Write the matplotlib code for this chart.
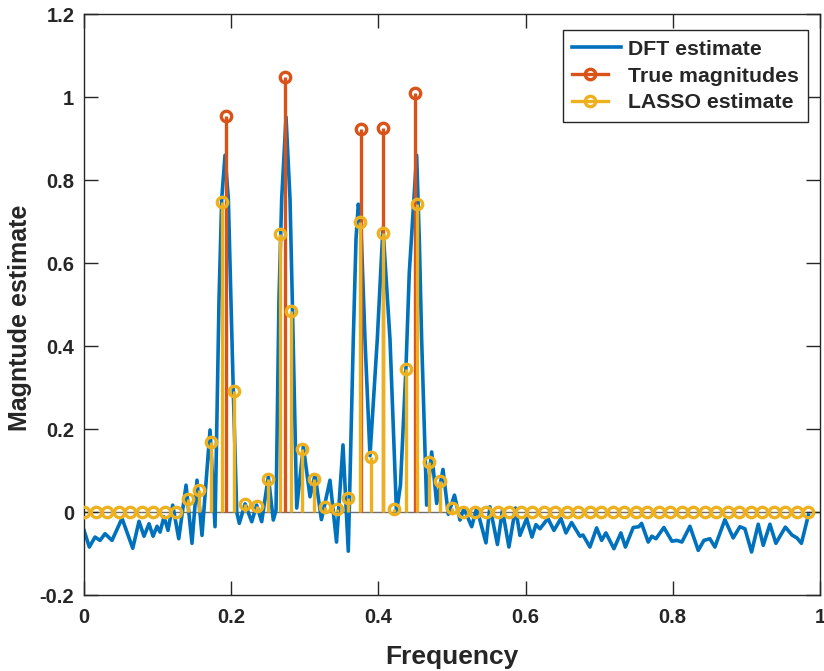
import numpy as np
import matplotlib
matplotlib.use('Agg')
import matplotlib.pyplot as plt
from matplotlib.lines import Line2D
from matplotlib.legend_handler import HandlerLine2D
from matplotlib.ticker import FuncFormatter

plt.rcParams['font.family'] = ['Liberation Sans', 'DejaVu Sans']
plt.rcParams['font.weight'] = 'bold'
plt.rcParams['axes.unicode_minus'] = False

# DFT estimate
freq_dft = [0.0, 0.0072, 0.0149, 0.0217, 0.0285, 0.0380, 0.0516, 0.0662, 0.0747, 0.0815,
            0.0883, 0.0938, 0.0992, 0.1033, 0.1087, 0.1141, 0.1205, 0.1287, 0.1386, 0.1467,
            0.1535, 0.1603, 0.1712, 0.1780, 0.1834, 0.1871, 0.1916, 0.1961, 0.1997, 0.2028,
            0.2075, 0.2110, 0.2188, 0.2279, 0.2346, 0.2414, 0.2504, 0.2572, 0.2609, 0.2649,
            0.2686, 0.2745, 0.2799, 0.2830, 0.2890, 0.2980, 0.3071, 0.3139, 0.3226, 0.3342,
            0.3431, 0.3519, 0.3591, 0.3659, 0.3696, 0.3727, 0.3760, 0.3818, 0.3886, 0.3985,
            0.4062, 0.4158, 0.4246, 0.4300, 0.4375, 0.4420, 0.4520, 0.4556, 0.4588, 0.4656,
            0.4724, 0.4792, 0.4878, 0.4950, 0.5034, 0.5109, 0.5163, 0.5268, 0.5336, 0.5462,
            0.5516, 0.5618, 0.5686, 0.5774, 0.5863, 0.5924, 0.6015, 0.6087, 0.6141, 0.6196,
            0.6304, 0.6386, 0.6481, 0.6549, 0.6626, 0.6739, 0.6780, 0.6875, 0.6966, 0.7034,
            0.7092, 0.7201, 0.7296, 0.7357, 0.7463, 0.7541, 0.7577, 0.7667, 0.7717, 0.7772,
            0.7880, 0.7989, 0.8057, 0.8125, 0.8234, 0.8347, 0.8424, 0.8505, 0.8573, 0.8709,
            0.8822, 0.8913, 0.8981, 0.9072, 0.9162, 0.9230, 0.9321, 0.9402, 0.9531, 0.9620,
            0.9688, 0.9749, 0.9844]
dft_vals = [-0.044, -0.084, -0.060, -0.068, -0.052, -0.068, -0.015, -0.087, -0.022, -0.058,
            -0.028, -0.058, -0.034, -0.048, -0.011, -0.044, 0.017, -0.064, 0.065, -0.075,
            0.077, -0.056, 0.198, -0.035, 0.51, 0.755, 0.86, 0.755, 0.51, 0.293,
            0.0, -0.027, 0.020, -0.023, 0.017, -0.023, 0.085, -0.019, 0.005, 0.513,
            0.755, 0.952, 0.755, 0.513, 0.010, 0.158, 0.037, 0.090, -0.018, 0.077,
            -0.072, 0.162, -0.094, 0.416, 0.658, 0.742, 0.704, 0.416, 0.136, 0.416,
            0.685, 0.416, 0.0, 0.065, 0.348, 0.577, 0.86, 0.658, 0.416, 0.017,
            0.145, 0.021, 0.103, -0.005, 0.041, -0.019, 0.009, -0.035, 0.010, -0.074,
            0.013, -0.078, 0.005, -0.084, 0.010, -0.056, -0.015, -0.060, -0.030, -0.040,
            -0.015, -0.044, -0.015, -0.050, -0.025, -0.058, -0.055, -0.084, -0.038, -0.068,
            -0.050, -0.088, -0.050, -0.084, -0.037, -0.035, -0.027, -0.072, -0.058, -0.064,
            -0.037, -0.070, -0.068, -0.072, -0.034, -0.092, -0.068, -0.064, -0.084, -0.018,
            -0.062, -0.035, -0.040, -0.096, -0.029, -0.080, -0.029, -0.075, -0.036, -0.055,
            -0.062, -0.075, -0.007]

# true spectral lines
freq_true = [0.1935, 0.2731, 0.3764, 0.4058, 0.4497]
true_vals = [0.954, 1.049, 0.922, 0.926, 1.011]

# LASSO estimate on a 1/64 grid
lasso_vals = [0, 0, 0, 0, 0, 0, 0, 0, 0, 0.031,
              0.053, 0.169, 0.748, 0.292, 0.019, 0.014, 0.081, 0.669, 0.484, 0.153,
              0.080, 0.013, 0.007, 0.035, 0.700, 0.132, 0.673, 0.007, 0.346, 0.742,
              0.121, 0.076, 0.010, 0, 0, 0, 0, 0, 0, 0,
              0, 0, 0, 0, 0, 0, 0, 0, 0, 0,
              0, 0, 0, 0, 0, 0, 0, 0, 0, 0,
              0, 0, 0, 0]
freq_lasso = np.arange(len(lasso_vals)) / 64.0

blue = '#0072BD'
red = '#D95319'
yellow = '#EDB120'
dark = '#262626'

fig = plt.figure(figsize=(8.24, 6.71), dpi=100)
ax = fig.add_axes([0.102, 0.113, 0.893, 0.866])

ax.axhline(0, color='#6e6e6e', lw=1.0, zorder=1)
ax.plot(freq_dft, dft_vals, color=blue, lw=2.6, zorder=2)

m1, s1, b1 = ax.stem(freq_true, true_vals, basefmt=' ')
s1.set_color(red); s1.set_linewidth(2.4); s1.set_zorder(3)
m1.set_color(red); m1.set_markerfacecolor('none'); m1.set_markeredgewidth(2.4)
m1.set_markersize(7.5); m1.set_zorder(3)

m2, s2, b2 = ax.stem(freq_lasso, lasso_vals, basefmt=' ')
s2.set_color(yellow); s2.set_linewidth(2.4); s2.set_zorder(4)
m2.set_color(yellow); m2.set_markerfacecolor('none'); m2.set_markeredgewidth(2.4)
m2.set_markersize(7.5); m2.set_zorder(4)

ax.set_xlim(0, 1)
ax.set_ylim(-0.2, 1.2)
ax.set_xticks([0, 0.2, 0.4, 0.6, 0.8, 1])
ax.set_yticks([-0.2, 0, 0.2, 0.4, 0.6, 0.8, 1, 1.2])
fmt = FuncFormatter(lambda v, p: '%g' % round(v, 2))
ax.xaxis.set_major_formatter(fmt)
ax.yaxis.set_major_formatter(fmt)
ax.tick_params(direction='in', top=True, right=True, length=10, width=1.0,
               labelsize=14.5, colors=dark)
ax.tick_params(axis='x', pad=9)
ax.tick_params(axis='y', pad=7)
for sp in ax.spines.values():
    sp.set_color(dark)
    sp.set_linewidth(1.0)

ax.set_xlabel('Frequency', fontsize=19, fontweight='bold', color=dark, labelpad=13)
ax.set_ylabel('Magntude estimate', fontsize=18, fontweight='bold', color=dark)
ax.yaxis.set_label_coords(-0.071, 0.477)


class StemHandle(HandlerLine2D):
    def get_xdata(self, legend, xdescent, ydescent, width, height, fontsize):
        x0 = -xdescent
        x1 = -xdescent + width * 0.73
        return [x0, x1], [x1]


h_dft = Line2D([], [], color=blue, lw=2.6)
h_true = Line2D([], [], color=red, lw=2.4, marker='o', mfc='none', mew=2.4, ms=7.5)
h_lasso = Line2D([], [], color=yellow, lw=2.4, marker='o', mfc='none', mew=2.4, ms=7.5)
leg = ax.legend([h_dft, h_true, h_lasso], ['DFT estimate', 'True magnitudes', 'LASSO estimate'],
                loc='upper right', bbox_to_anchor=(0.984, 0.972), borderaxespad=0,
                fontsize=15.3, handlelength=2.3, handletextpad=0.3, labelspacing=0.36,
                borderpad=0.45, fancybox=False, framealpha=1,
                handler_map={h_true: StemHandle(), h_lasso: StemHandle()})
leg.get_frame().set_edgecolor(dark)
leg.get_frame().set_linewidth(1.0)
for t in leg.get_texts():
    t.set_color(dark)

fig.savefig('out.png', dpi=100)
